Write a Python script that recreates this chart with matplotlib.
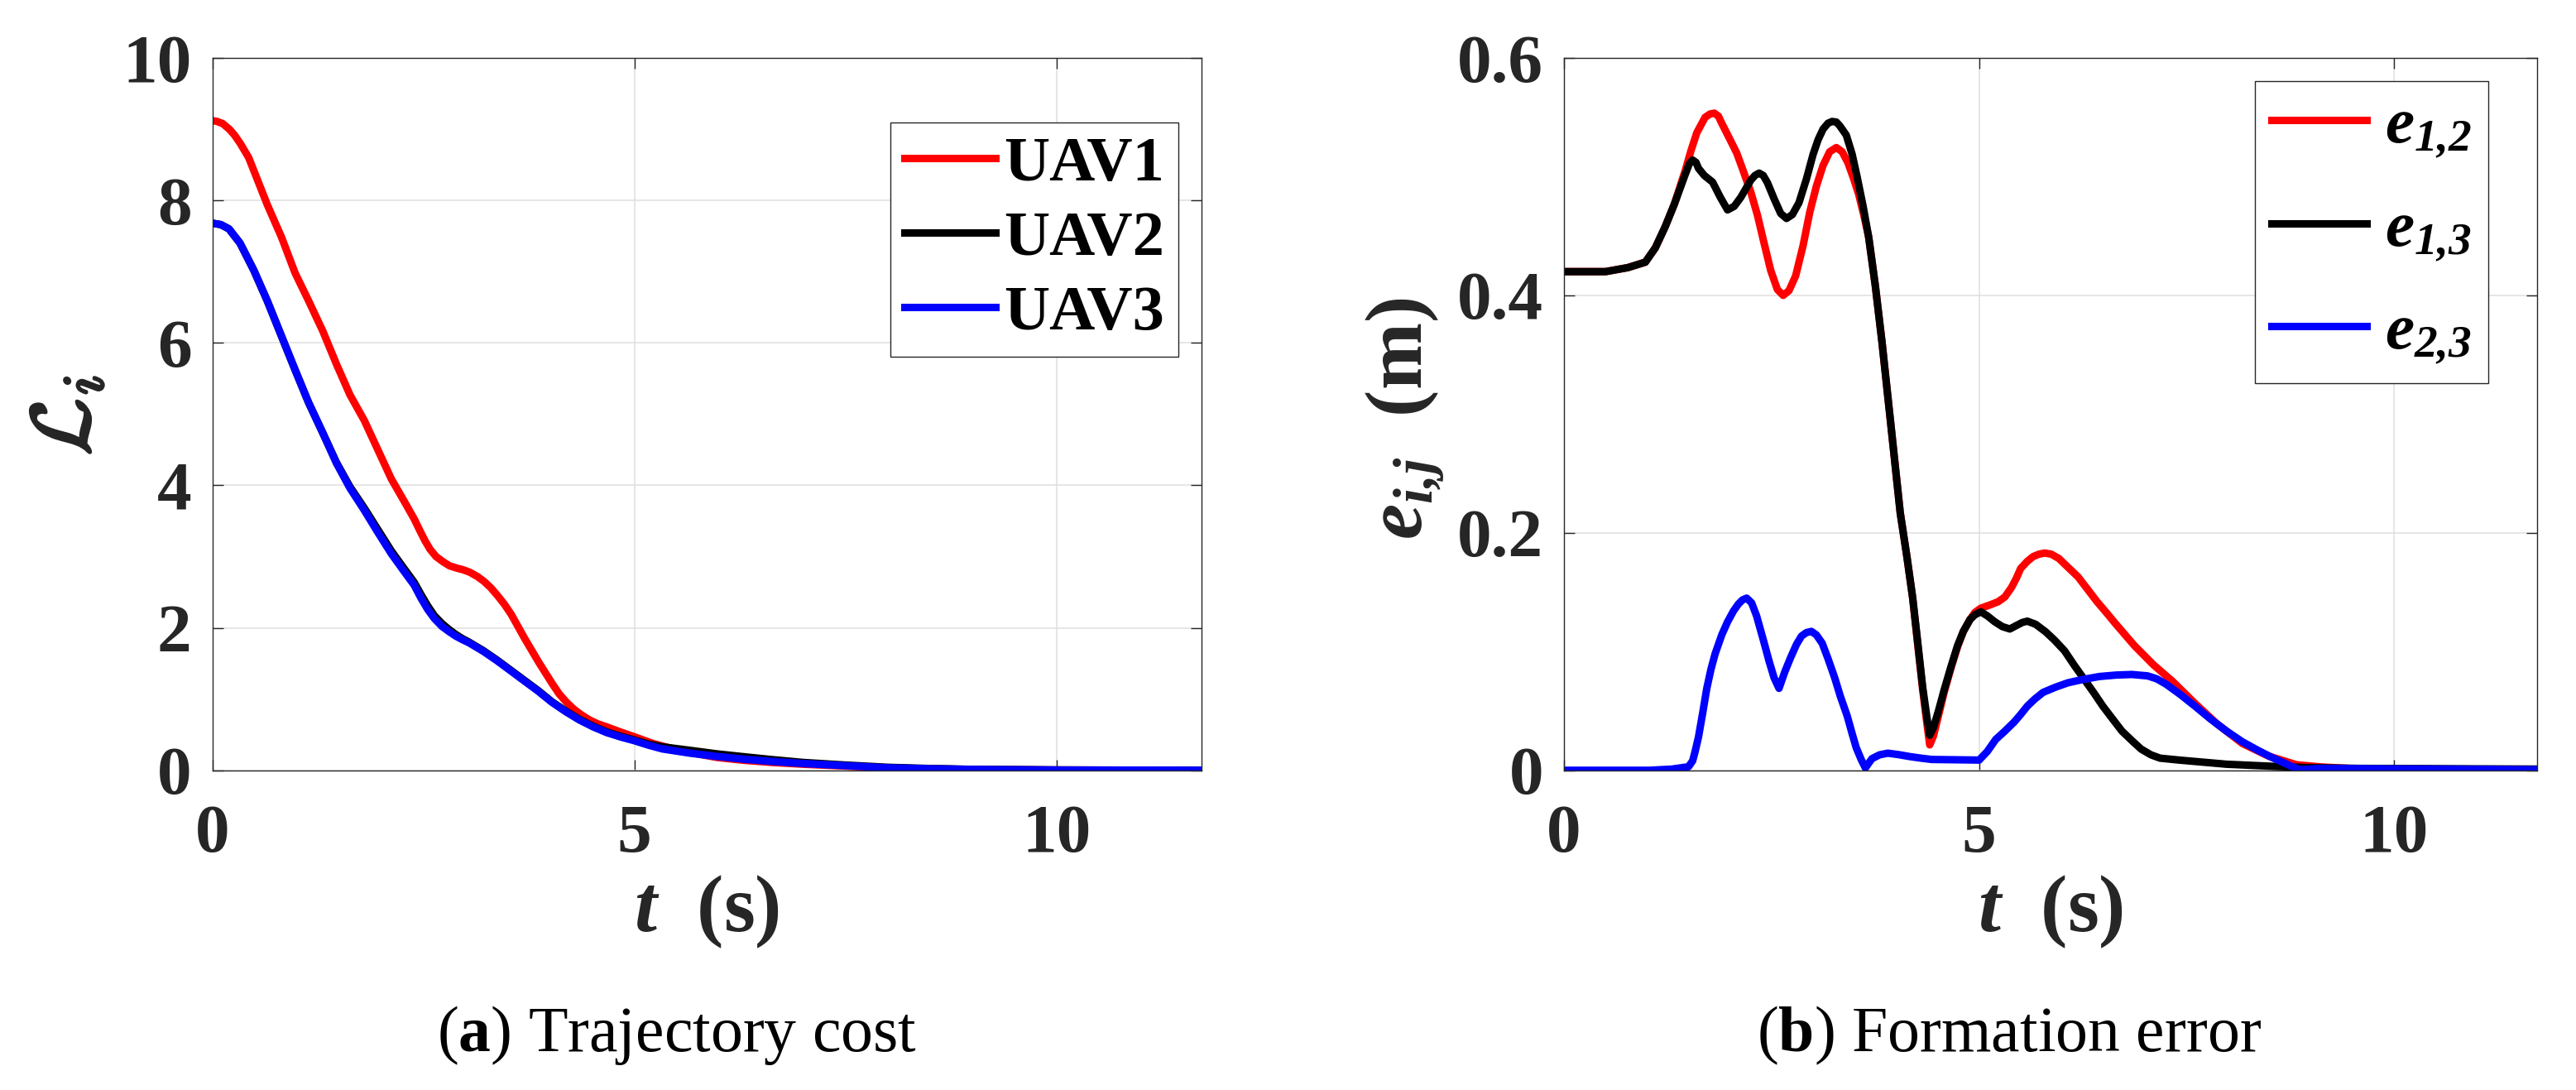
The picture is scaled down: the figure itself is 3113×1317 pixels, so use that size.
import matplotlib
matplotlib.use("Agg")
from matplotlib import pyplot as plt
import matplotlib.patheffects as pe

# ---- data ----
# (a) trajectory cost
t_uav1 = [0, 0.05, 0.12, 0.2, 0.26, 0.33, 0.43, 0.52, 0.65, 0.82, 0.98, 1.14, 1.31, 1.47,
          1.63, 1.80, 1.96, 2.12, 2.29, 2.39, 2.46, 2.52, 2.58, 2.65, 2.73, 2.81, 2.89,
          2.97, 3.05, 3.14, 3.22, 3.30, 3.38, 3.46, 3.54, 3.62, 3.70, 3.79, 3.87, 3.95,
          4.03, 4.11, 4.20, 4.28, 4.37, 4.47, 4.57, 4.67, 4.83, 5.0, 5.22, 5.49, 5.75,
          5.98, 6.3, 6.63, 7.0, 7.48, 8.0, 8.5, 9.0, 10.0, 11.72]
L_uav1 = [9.12, 9.11, 9.08, 9.0, 8.92, 8.80, 8.6, 8.33, 7.94, 7.48, 6.98, 6.59, 6.16, 5.70,
          5.27, 4.91, 4.50, 4.09, 3.74, 3.53, 3.36, 3.22, 3.10, 3.0, 2.93, 2.87, 2.84,
          2.815, 2.78, 2.72, 2.65, 2.56, 2.45, 2.33, 2.19, 2.02, 1.85, 1.67, 1.51, 1.36,
          1.21, 1.07, 0.95, 0.86, 0.78, 0.705, 0.65, 0.61, 0.54, 0.47, 0.376, 0.29, 0.23,
          0.18, 0.14, 0.11, 0.085, 0.06, 0.033, 0.02, 0.011, 0.004, 0.0]

t_uav2 = [0, 0.1, 0.196, 0.327, 0.49, 0.65, 0.82, 0.98, 1.14, 1.31, 1.47, 1.63, 1.80, 1.96,
          2.12, 2.26, 2.39, 2.47, 2.55, 2.63, 2.72, 2.80, 2.88, 2.96, 3.04, 3.21, 3.37,
          3.53, 3.70, 3.86, 4.02, 4.19, 4.35, 4.51, 4.67, 4.83, 5.0, 5.16, 5.33, 5.66,
          5.98, 6.3, 6.63, 7.0, 7.48, 8.0, 8.5, 9.0, 10.0, 11.72]
L_uav2 = [7.68, 7.66, 7.60, 7.40, 7.02, 6.59, 6.09, 5.62, 5.16, 4.73, 4.32, 3.98, 3.68, 3.38,
          3.08, 2.85, 2.64, 2.47, 2.31, 2.17, 2.06, 1.98, 1.91, 1.85, 1.80, 1.68, 1.55,
          1.41, 1.26, 1.12, 0.965, 0.83, 0.715, 0.62, 0.54, 0.48, 0.425, 0.37, 0.33, 0.28,
          0.23, 0.19, 0.15, 0.11, 0.075, 0.042, 0.025, 0.013, 0.004, 0.0]

t_uav3 = [0, 0.1, 0.196, 0.327, 0.49, 0.65, 0.82, 0.98, 1.14, 1.31, 1.47, 1.63, 1.80, 1.96,
          2.12, 2.26, 2.39, 2.47, 2.55, 2.63, 2.72, 2.80, 2.88, 2.96, 3.04, 3.21, 3.37,
          3.53, 3.70, 3.86, 4.02, 4.19, 4.35, 4.51, 4.67, 4.83, 5.0, 5.16, 5.33, 5.66,
          5.98, 6.3, 6.63, 7.0, 7.48, 8.0, 8.5, 9.0, 10.0, 11.72]
L_uav3 = [7.68, 7.66, 7.60, 7.40, 7.02, 6.59, 6.09, 5.62, 5.16, 4.73, 4.31, 3.96, 3.65, 3.34,
          3.04, 2.81, 2.60, 2.42, 2.26, 2.13, 2.02, 1.95, 1.886, 1.835, 1.79, 1.67, 1.54,
          1.40, 1.25, 1.11, 0.957, 0.82, 0.705, 0.61, 0.53, 0.47, 0.415, 0.355, 0.30, 0.24,
          0.194, 0.155, 0.124, 0.095, 0.066, 0.035, 0.022, 0.012, 0.004, 0.0]

uav_labels = ['UAV1', 'UAV2', 'UAV3']

# (b) formation error
t_e12 = [0, 0.5, 0.77, 0.98, 1.10, 1.22, 1.33, 1.46, 1.53, 1.6, 1.7, 1.76, 1.81, 1.86, 1.9,
         1.99, 2.08, 2.16, 2.25, 2.33, 2.41, 2.49, 2.57, 2.64, 2.71, 2.79, 2.88, 2.96, 3.04,
         3.12, 3.2, 3.28, 3.35, 3.42, 3.49, 3.55, 3.61, 3.67, 3.75, 3.83, 3.94, 4.05, 4.13,
         4.2, 4.26, 4.32, 4.37, 4.405, 4.45, 4.51, 4.58, 4.66, 4.74, 4.81, 4.89, 4.95, 5.02,
         5.12, 5.23, 5.31, 5.39, 5.45, 5.5, 5.58, 5.65, 5.72, 5.79, 5.87, 5.96, 6.07, 6.19,
         6.3, 6.42, 6.53, 6.64, 6.87, 7.1, 7.33, 7.6, 7.87, 8.17, 8.48, 8.82, 9.12, 9.6,
         10.0, 11.72]
e12 = [0.42, 0.42, 0.4234, 0.428, 0.44, 0.458, 0.477, 0.505, 0.522, 0.537, 0.55, 0.5528,
       0.5535, 0.551, 0.545, 0.5326, 0.52, 0.5047, 0.487, 0.4676, 0.444, 0.421, 0.405,
       0.400, 0.404, 0.4164, 0.442, 0.470, 0.492, 0.5094, 0.521, 0.5245, 0.521, 0.5117,
       0.498, 0.485, 0.468, 0.449, 0.408, 0.3607, 0.289, 0.2167, 0.18, 0.145, 0.106, 0.068,
       0.04, 0.0214, 0.029, 0.046, 0.066, 0.086, 0.104, 0.117, 0.127, 0.133, 0.1365, 0.139,
       0.142, 0.146, 0.154, 0.162, 0.17, 0.176, 0.18, 0.182, 0.183, 0.182, 0.1784, 0.171,
       0.163, 0.153, 0.142, 0.133, 0.1237, 0.105, 0.0888, 0.0749, 0.0563, 0.0388, 0.0226,
       0.0121, 0.0047, 0.0028, 0.001, 0.0005, 0.0]

t_e13 = [0, 0.5, 0.77, 0.98, 1.10, 1.22, 1.33, 1.45, 1.51, 1.55, 1.59, 1.62, 1.69, 1.79,
         1.88, 1.97, 2.05, 2.13, 2.25, 2.30, 2.35, 2.40, 2.45, 2.53, 2.61, 2.68, 2.75, 2.83,
         2.92, 3.0, 3.06, 3.12, 3.18, 3.23, 3.28, 3.32, 3.40, 3.47, 3.53, 3.60, 3.67, 3.75,
         3.83, 3.94, 4.05, 4.13, 4.2, 4.26, 4.32, 4.37, 4.405, 4.45, 4.51, 4.58, 4.66, 4.74,
         4.81, 4.89, 4.95, 5.02, 5.1, 5.19, 5.28, 5.37, 5.45, 5.52, 5.58, 5.68, 5.8, 5.91,
         6.03, 6.14, 6.26, 6.38, 6.49, 6.61, 6.72, 6.84, 6.95, 7.07, 7.18, 7.41, 7.98, 8.55,
         8.93, 9.57, 11.72]
e13 = [0.42, 0.42, 0.4234, 0.428, 0.44, 0.458, 0.477, 0.500, 0.511, 0.514, 0.512, 0.507,
       0.501, 0.4954, 0.483, 0.472, 0.475, 0.4826, 0.497, 0.501, 0.503, 0.501, 0.495,
       0.4815, 0.469, 0.4648, 0.468, 0.478, 0.498, 0.5187, 0.531, 0.540, 0.545, 0.5465,
       0.546, 0.543, 0.535, 0.519, 0.500, 0.476, 0.449, 0.408, 0.3607, 0.289, 0.2167, 0.18,
       0.145, 0.108, 0.07, 0.045, 0.0295, 0.036, 0.05, 0.068, 0.087, 0.105, 0.117, 0.127,
       0.131, 0.1335, 0.13, 0.125, 0.121, 0.119, 0.122, 0.1245, 0.1256, 0.123, 0.1167,
       0.1095, 0.1005, 0.089, 0.0772, 0.0654, 0.054, 0.043, 0.033, 0.025, 0.0179, 0.013,
       0.0102, 0.0086, 0.0051, 0.0033, 0.0023, 0.0016, 0.001]

t_e23 = [0, 1.03, 1.3, 1.5, 1.55, 1.58, 1.62, 1.67, 1.72, 1.77, 1.82, 1.9, 1.97, 2.04, 2.1,
         2.15, 2.2, 2.26, 2.32, 2.4, 2.47, 2.53, 2.59, 2.66, 2.73, 2.8, 2.86, 2.92, 2.98,
         3.04, 3.11, 3.18, 3.26, 3.33, 3.41, 3.47, 3.52, 3.58, 3.63, 3.67, 3.71, 3.8, 3.9,
         4.03, 4.16, 4.3, 4.43, 5.0, 5.1, 5.2, 5.31, 5.42, 5.5, 5.58, 5.67, 5.77, 5.92,
         6.07, 6.25, 6.45, 6.65, 6.84, 7.03, 7.14, 7.25, 7.42, 7.6, 7.79, 7.98, 8.17, 8.36,
         8.52, 8.67, 8.77, 8.86, 9.12, 11.72]
e23 = [0, 0, 0.001, 0.003, 0.008, 0.016, 0.028, 0.048, 0.069, 0.085, 0.098, 0.114, 0.125,
       0.134, 0.140, 0.1435, 0.145, 0.141, 0.13, 0.11, 0.092, 0.078, 0.069, 0.083, 0.095,
       0.106, 0.113, 0.116, 0.117, 0.114, 0.107, 0.094, 0.078, 0.062, 0.046, 0.031, 0.019,
       0.009, 0.002, 0.006, 0.0098, 0.013, 0.0144, 0.0132, 0.0116, 0.0102, 0.0091, 0.0086,
       0.016, 0.026, 0.033, 0.0405, 0.047, 0.054, 0.06, 0.0656, 0.07, 0.0737, 0.0765,
       0.079, 0.0802, 0.0807, 0.0795, 0.077, 0.0726, 0.064, 0.054, 0.043, 0.033, 0.024,
       0.0167, 0.011, 0.0063, 0.003, 0.0005, 0.0016, 0.0005]

err_labels = [r'$e_{1{,}2}$', r'$e_{1{,}3}$', r'$e_{2{,}3}$']

# ---- style ----
plt.rcParams['font.family'] = ['Liberation Serif', 'DejaVu Serif']
plt.rcParams['mathtext.fontset'] = 'custom'
# all math in bold italic (subscript digits are slanted in the original)
plt.rcParams['mathtext.rm'] = 'Liberation Serif:italic:bold'
plt.rcParams['mathtext.it'] = 'Liberation Serif:italic:bold'
plt.rcParams['mathtext.bf'] = 'Liberation Serif:bold'

dark = '#262626'
lw = 6.5
W, H = 3113, 1317

fig = plt.figure(figsize=(W / 100, H / 100), dpi=100)
ax1 = fig.add_axes([256.7 / W, 1 - 930.7 / H, 1195.3 / W, 860.7 / H])
ax2 = fig.add_axes([1890 / W, 1 - 930.7 / H, 1176 / W, 860.7 / H])

ax1.plot(t_uav1, L_uav1, color='red', lw=lw, label=uav_labels[0])
ax1.plot(t_uav2, L_uav2, color='black', lw=lw, label=uav_labels[1])
ax1.plot(t_uav3, L_uav3, color='blue', lw=lw, label=uav_labels[2])

ax2.plot(t_e12, e12, color='red', lw=lw, label=err_labels[0])
ax2.plot(t_e13, e13, color='black', lw=lw, label=err_labels[1])
ax2.plot(t_e23, e23, color='blue', lw=lw, label=err_labels[2])

ax1.set_ylim(0, 10)
ax1.set_yticks([0, 2, 4, 6, 8, 10])
ax2.set_ylim(0, 0.6)
ax2.set_yticks([0, 0.2, 0.4, 0.6])
ax2.set_yticklabels(['0', '0.2', '0.4', '0.6'])

for ax in (ax1, ax2):
    ax.set_xlim(0, 11.72)
    ax.set_xticks([0, 5, 10])
    ax.set_axisbelow(True)
    ax.grid(True, color='#dfdfdf', linewidth=1.1)
    for s in ax.spines.values():
        s.set_color(dark)
        s.set_linewidth(1.0)
    ax.tick_params(direction='in', length=9.4, width=1.0, top=True, right=True,
                   colors=dark, labelsize=60)
    ax.tick_params(axis='x', pad=30)
    ax.tick_params(axis='y', pad=18)
    for lab in ax.get_xticklabels() + ax.get_yticklabels():
        lab.set_fontweight('bold')
    ax.set_xlabel(r'$t$  (s)', fontsize=70, fontweight='bold', color=dark, labelpad=6)

# y labels placed where they sit in the original
ylab1 = fig.text(82 / W, 1 - 502 / H, r'$\mathcal{L}_i$', fontsize=72, color=dark,
                 math_fontfamily='cm', rotation=90, ha='center', va='center')
ylab1.set_path_effects([pe.withStroke(linewidth=2.5, foreground=dark)])
fig.text(1698 / W, 1 - 506 / H, r'$e_{i{,}j}$  (m)', fontsize=70, fontweight='bold',
         color=dark, rotation=90, ha='center', va='center')

leg1 = ax1.legend(loc='upper right', bbox_to_anchor=((1424 - 256.7) / 1195.3, (930.7 - 147.7) / 860.7),
                  borderaxespad=0, fancybox=False, framealpha=1, edgecolor=dark,
                  prop={'family': 'Liberation Serif', 'weight': 'bold', 'size': 55},
                  handlelength=1.45, handletextpad=0.13, borderpad=0.22, labelspacing=0.27)
leg1.get_frame().set_linewidth(1.0)

leg2 = ax2.legend(loc='upper right', bbox_to_anchor=((3007 - 1890) / 1176, (930.7 - 97.7) / 860.7),
                  borderaxespad=0, fancybox=False, framealpha=1, edgecolor=dark,
                  prop={'family': 'Liberation Serif', 'weight': 'bold', 'size': 57},
                  handlelength=1.45, handletextpad=0.28, borderpad=0.25, labelspacing=0.6)
leg2.get_frame().set_linewidth(1.0)

fig.text(818 / W, 1 - 1270 / H, r'($\mathbf{a}$) Trajectory cost', fontsize=56,
         ha='center', va='baseline')
fig.text(2428 / W, 1 - 1270 / H, r'($\mathbf{b}$) Formation error', fontsize=56,
         ha='center', va='baseline')

fig.savefig('out.png', dpi=100)
